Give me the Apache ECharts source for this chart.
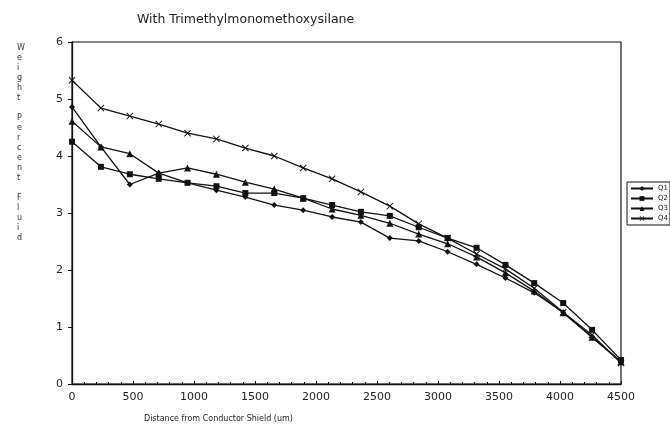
<!DOCTYPE html>
<html><head><meta charset="utf-8">
<script src="https://cdn.jsdelivr.net/npm/echarts@6/dist/echarts.min.js"></script>
<style>html,body{margin:0;padding:0;background:#fff}#c{width:670px;height:435px}</style>
</head><body><div id="c"></div>
<script>
var distances = [0, 237, 474, 711, 947, 1184, 1421, 1658, 1895, 2132, 2368, 2605, 2842, 3079, 3316, 3553, 3789, 4026, 4263, 4500];
var q1 = [4.86, 4.16, 3.50, 3.70, 3.53, 3.40, 3.28, 3.14, 3.05, 2.93, 2.84, 2.56, 2.51, 2.32, 2.10, 1.86, 1.60, 1.26, 0.82, 0.39];
var q2 = [4.25, 3.81, 3.68, 3.60, 3.53, 3.47, 3.35, 3.35, 3.26, 3.14, 3.02, 2.95, 2.75, 2.56, 2.39, 2.09, 1.77, 1.42, 0.95, 0.42];
var q3 = [4.61, 4.16, 4.04, 3.70, 3.79, 3.68, 3.54, 3.42, 3.26, 3.07, 2.96, 2.82, 2.63, 2.46, 2.23, 1.95, 1.63, 1.25, 0.82, 0.39];
var q4 = [5.33, 4.84, 4.70, 4.56, 4.40, 4.30, 4.14, 4.00, 3.79, 3.60, 3.37, 3.12, 2.81, 2.56, 2.28, 2.02, 1.68, 1.26, 0.86, 0.37];
var seriesNames = ['Q1', 'Q2', 'Q3', 'Q4'];
var xTicks = [0, 500, 1000, 1500, 2000, 2500, 3000, 3500, 4000, 4500];
var yTicks = [0, 1, 2, 3, 4, 5, 6];

var crossPath = 'path://M0,1 L1,0 L5,4 L9,0 L10,1 L6,5 L10,9 L9,10 L5,6 L1,10 L0,9 L4,5 Z';
var symbols = ['diamond', 'rect', 'triangle', crossPath];
var sizes = [6, 6, 7, 7];
var allData = [q1, q2, q3, q4];
var font = 'DejaVu Sans, sans-serif';

function pairs(arr){ return distances.map(function(d,i){ return [d, arr[i]]; }); }

var series = allData.map(function(arr, k){
  return {
    name: seriesNames[k], type: 'line', data: pairs(arr),
    symbol: symbols[k], symbolSize: sizes[k], showAllSymbol: true,
    lineStyle: {color: '#111', width: 1.3},
    itemStyle: {color: '#111'},
    animation: false
  };
});

var yName = 'Weight Percent Fluid'.split('').join('\n');

var chart = echarts.init(document.getElementById('c'), null, {renderer: 'canvas'});
chart.setOption({
  backgroundColor: '#fff',
  animation: false,
  title: {
    text: 'With Trimethylmonomethoxysilane', left: 132, top: 8,
    textStyle: {fontFamily: font, fontSize: 12.5, fontWeight: 'normal', color: '#222'}
  },
  grid: {left: 72, right: 49, top: 42, bottom: 51, show: true, borderColor: '#111', borderWidth: 1.2, backgroundColor: 'transparent'},
  legend: {
    orient: 'vertical', left: 627, top: 182,
    data: seriesNames, itemWidth: 22, itemHeight: 6, itemGap: 3,
    padding: [3, 2, 3, 3], borderColor: '#111', borderWidth: 1,
    textStyle: {fontFamily: font, fontSize: 7, color: '#111'}
  },
  xAxis: {
    type: 'value', min: 0, max: 4500, interval: 500,
    name: 'Distance from Conductor Shield (um)', nameLocation: 'start',
    nameGap: 0,
    nameTextStyle: {fontFamily: font, fontSize: 8, color: '#222', align: 'left', verticalAlign: 'top', padding: [31, 0, 0, 72]},
    axisLine: {lineStyle: {color: '#111', width: 1.3}},
    axisTick: {show: true, inside: true, length: 3, lineStyle: {color: '#111'}},
    minorTick: {show: true, splitNumber: 5, length: 2, lineStyle: {color: '#111'}},
    axisLabel: {fontFamily: font, fontSize: 11, color: '#222', margin: 8,
      formatter: function(v){ return xTicks.indexOf(v) >= 0 ? String(v) : ''; }},
    splitLine: {show: false}
  },
  yAxis: {
    type: 'value', min: 0, max: 6, interval: 1,
    axisLine: {show: true, lineStyle: {color: '#111', width: 1.3}},
    axisTick: {show: true, length: 4, lineStyle: {color: '#111'}},
    axisLabel: {fontFamily: font, fontSize: 11, color: '#222', margin: 9,
      formatter: function(v){ return yTicks.indexOf(v) >= 0 ? String(v) : ''; }},
    splitLine: {show: false}
  },
  graphic: [{
    type: 'text', left: 17, top: 43,
    style: {text: yName, fontFamily: font, fontSize: 8, lineHeight: 10, fill: '#333', align: 'center'}
  }],
  series: series
});
</script></body></html>
